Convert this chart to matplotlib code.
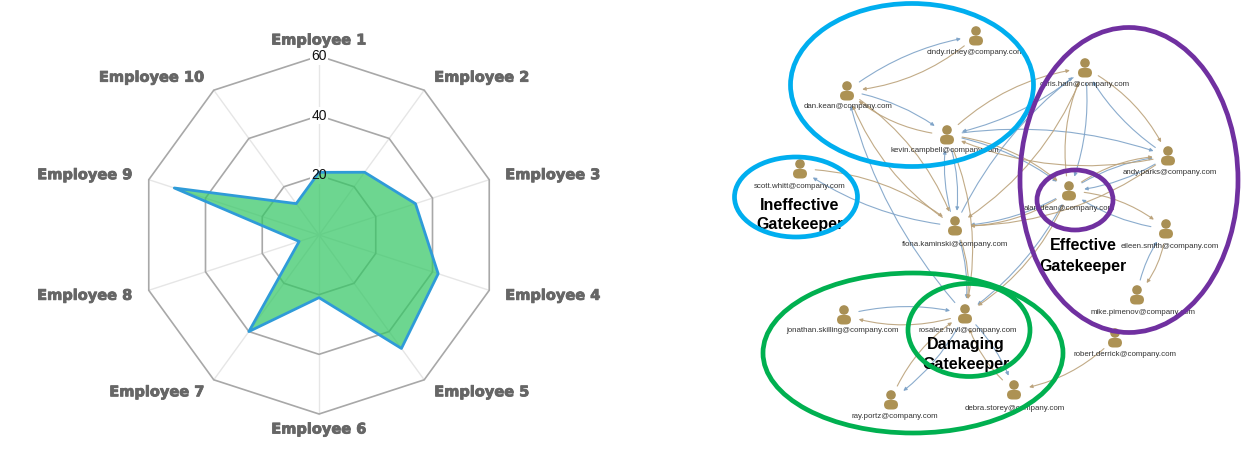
import numpy as np
import matplotlib
matplotlib.use('Agg')
import matplotlib.pyplot as plt
import matplotlib.patheffects as pe
from matplotlib.patches import Ellipse, Circle, FancyBboxPatch, FancyArrowPatch

# radar data
employees = ['Employee 1', 'Employee 2', 'Employee 3', 'Employee 4', 'Employee 5',
             'Employee 6', 'Employee 7', 'Employee 8', 'Employee 9', 'Employee 10']
scores = [21, 26, 34, 42, 47, 21, 40, 7, 51, 13]
rings = [20, 40, 60]

# network data
people = ['cindy.richey', 'dan.kean', 'kevin.campbell', 'scott.whitt', 'fiona.kaminski',
          'chris.hain', 'andy.parks', 'alan.dean', 'eileen.smith', 'mike.pimenov',
          'robert.derrick', 'rosalee.hyvl', 'jonathan.skilling', 'ray.portz', 'debra.storey']
node_x = [976, 847, 947, 800, 955, 1085, 1168, 1069, 1166, 1137, 1115, 965, 844, 891, 1014]
node_y = [36, 91, 135, 169, 226, 68, 156, 191, 229, 295, 338, 314, 315, 400, 390]
label_x = [975, 848, 945, 800, 955, 1085, 1170, 1069, 1170, 1143, 1125, 968, 842, 895, 1015]
label_y = [52, 107, 151, 186, 244, 85, 173, 209, 246, 312, 354, 331, 331, 417, 408]

blue_edges = [('dan.kean', 'cindy.richey'), ('dan.kean', 'kevin.campbell'), ('chris.hain', 'kevin.campbell'),
              ('fiona.kaminski', 'scott.whitt'), ('kevin.campbell', 'fiona.kaminski'),
              ('fiona.kaminski', 'kevin.campbell'), ('rosalee.hyvl', 'dan.kean'),
              ('andy.parks', 'chris.hain'), ('chris.hain', 'alan.dean'), ('andy.parks', 'alan.dean'),
              ('alan.dean', 'andy.parks'), ('kevin.campbell', 'andy.parks'), ('eileen.smith', 'alan.dean'),
              ('mike.pimenov', 'eileen.smith'), ('jonathan.skilling', 'rosalee.hyvl'),
              ('rosalee.hyvl', 'ray.portz'), ('rosalee.hyvl', 'debra.storey'),
              ('kevin.campbell', 'alan.dean'), ('alan.dean', 'fiona.kaminski'),
              ('fiona.kaminski', 'chris.hain'), ('fiona.kaminski', 'rosalee.hyvl'),
              ('alan.dean', 'rosalee.hyvl')]
tan_edges = [('cindy.richey', 'dan.kean'), ('kevin.campbell', 'dan.kean'), ('kevin.campbell', 'chris.hain'),
             ('fiona.kaminski', 'dan.kean'), ('dan.kean', 'fiona.kaminski'), ('scott.whitt', 'fiona.kaminski'),
             ('kevin.campbell', 'rosalee.hyvl'), ('chris.hain', 'andy.parks'), ('alan.dean', 'chris.hain'),
             ('andy.parks', 'kevin.campbell'), ('alan.dean', 'eileen.smith'), ('eileen.smith', 'mike.pimenov'),
             ('rosalee.hyvl', 'jonathan.skilling'), ('ray.portz', 'rosalee.hyvl'),
             ('debra.storey', 'rosalee.hyvl'), ('robert.derrick', 'debra.storey'),
             ('alan.dean', 'rosalee.hyvl'), ('kevin.campbell', 'alan.dean'), ('alan.dean', 'fiona.kaminski'),
             ('andy.parks', 'fiona.kaminski'), ('fiona.kaminski', 'rosalee.hyvl'), ('chris.hain', 'fiona.kaminski'),
             ('alan.dean', 'andy.parks')]

group_names = [['Ineffective', 'Gatekeeper'], ['Effective', 'Gatekeeper'], ['Damaging', 'Gatekeeper']]

W, H = 1254, 450
fig = plt.figure(figsize=(W / 100, H / 100), dpi=100, facecolor='white')

# ---- radar on the left
cx, cy, R = 319, 235, 179
ax = fig.add_axes([(cx - R) / W, 1 - (cy + R) / H, 2 * R / W, 2 * R / H], projection='polar')
ax.set_theta_zero_location('N')
ax.set_theta_direction(-1)
ax.set_ylim(0, 60)
ax.axis('off')

angles = np.linspace(0, 2 * np.pi, len(employees), endpoint=False)
closed = np.append(angles, angles[0])

for a in angles:
    ax.plot([a, a], [0, 60], color='#e6e6e6', lw=1, zorder=1, clip_on=False)
for r in rings:
    ax.plot(closed, [r] * len(closed), color='#a8a8a8', lw=1.2, zorder=1.5, clip_on=False)
    # white gap in the ring behind the number
    ax.text(0, r, str(r), ha='center', va='center', fontsize=10, color='white', zorder=2,
            family='Liberation Sans', bbox=dict(fc='white', ec='none', pad=1.2))
    ax.text(0, r, str(r), ha='center', va='center', fontsize=10, color='#111111', zorder=5,
            family='Liberation Sans')

vals = np.array(scores + scores[:1])
ax.fill(closed, vals, color='#35c765', alpha=0.72, lw=0, zorder=3)
ax.plot(closed, vals, color='#2f9bd8', lw=2, zorder=4)

# pixel offset of each name from its outer corner
offsets = [(0, 16), (10, 13), (16, 5), (16, -5), (10, -12), (0, -15), (-9, -12), (-16, -5), (-16, 5), (-9, 13)]
aligns = ['center', 'left', 'left', 'left', 'left', 'center', 'right', 'right', 'right', 'right']
for a, name, off, ha in zip(angles, employees, offsets, aligns):
    t = ax.annotate(name, (a, 60), xytext=off, textcoords='offset pixels', ha=ha, va='center',
                    fontsize=10.5, fontweight='bold', color='#666666', family='DejaVu Sans',
                    annotation_clip=False)
    t.set_path_effects([pe.withStroke(linewidth=0.6, foreground='#666666')])

# ---- network on the right, drawn in image pixels
net = fig.add_axes([0, 0, 1, 1], facecolor='none')
net.set_xlim(0, W)
net.set_ylim(H, 0)
net.axis('off')

pos = {p: (x, y) for p, x, y in zip(people, node_x, node_y)}


def draw_edges(edges, colour, rad):
    for src, dst in edges:
        arrow = FancyArrowPatch(pos[src], pos[dst], connectionstyle=f'arc3,rad={rad}',
                                arrowstyle='-|>', mutation_scale=5, lw=0.8, color=colour,
                                shrinkA=11, shrinkB=11, alpha=0.9, zorder=2)
        net.add_patch(arrow)


draw_edges(blue_edges, '#7ea3c8', -0.13)
draw_edges(tan_edges, '#bba27a', -0.17)

for p, x, y, lx, ly in zip(people, node_x, node_y, label_x, label_y):
    net.add_patch(Circle((x, y - 5), 4.8, fc='#a88f55', ec='none', zorder=3))
    net.add_patch(FancyBboxPatch((x - 7, y), 14, 9.5, boxstyle='round,pad=0,rounding_size=5',
                                 fc='#ad9254', ec='none', zorder=3))
    net.text(lx, ly, p + '@company.com', ha='center', va='center', fontsize=5.7, color='#333333',
             family='Liberation Sans', zorder=3)

# group captions sit under the rings
caption_x = [800, 1083, 966]
caption_y = [205, 246, 345]
for name, x, y in zip(group_names, caption_x, caption_y):
    for i, line in enumerate(name):
        net.text(x, y + i * 20, line, ha='center', va='center', fontsize=11.5, fontweight='bold',
                 color='black', family='Liberation Sans', zorder=4)

ring_colour = ['#00aeef', '#00aeef', '#7030a0', '#7030a0', '#00b050', '#00b050']
ring_cx = [912, 796, 1129, 1075, 913, 969]
ring_cy = [85, 197, 180, 200, 353, 330]
ring_w = [243, 123, 218, 76, 300, 122]
ring_h = [163, 80, 305, 60, 160, 93]
for c, x, y, w, h in zip(ring_colour, ring_cx, ring_cy, ring_w, ring_h):
    net.add_patch(Ellipse((x, y), w, h, fc='none', ec=c, lw=3.4, zorder=5))

fig.savefig('out.png', dpi=100)
